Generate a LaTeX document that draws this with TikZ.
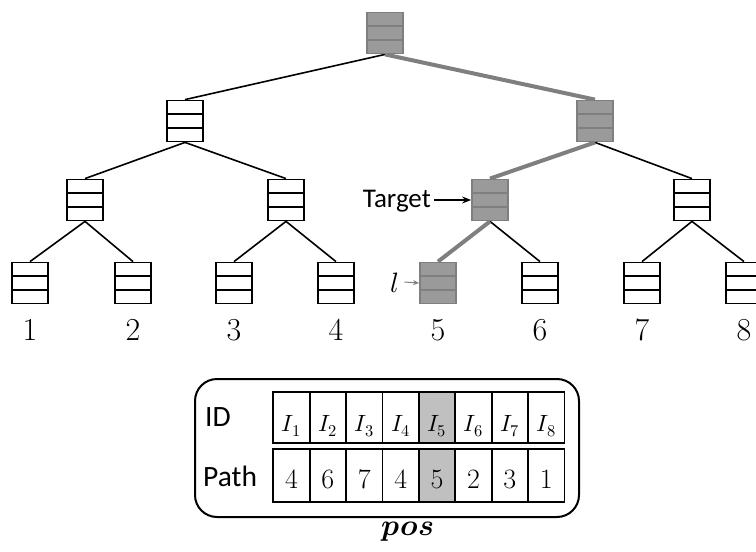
\documentclass[tikz,border=0pt]{standalone}
\usepackage{fontspec}
\usepackage{unicode-math}
\setmathfont{Latin Modern Math}
\usetikzlibrary{calc,arrows.meta,backgrounds}
\newfontfamily\labelsans{Carlito}
\definecolor{boxgrey}{HTML}{9A9A9A}
\definecolor{edgegrey}{HTML}{7F7F7F}
\definecolor{cellgrey}{HTML}{C0C0C0}

\begin{document}
\begin{tikzpicture}[x=1pt,y=-1pt,
  treenode/.style={color=black, draw, line width=1.8pt, fill=white,
    minimum width=36pt, minimum height=41pt, inner sep=0pt,
    path picture={\foreach \f in {0.333,0.667}{%
      \draw[line width=1.8pt]
        ($(path picture bounding box.north west)!\f!(path picture bounding box.south west)$) --
        ($(path picture bounding box.north east)!\f!(path picture bounding box.south east)$);}}},
  pathnode/.style={treenode, color=edgegrey, fill=boxgrey},
  edge/.style={line width=1.6pt, black},
  pathedge/.style={line width=4pt, edgegrey},
  leafnum/.style={anchor=base, inner sep=0pt, font=\fontsize{32}{36}\selectfont},
  cell/.style={draw=black, line width=1.8pt, inner sep=0pt, minimum width=36.4pt},
  idcell/.style={cell, minimum height=51.6pt, text height=27pt, text depth=0pt,
    font=\fontsize{23.5}{26}\selectfont},
  pcell/.style={cell, minimum height=53pt, text height=25pt, text depth=0pt,
    font=\fontsize{28}{32}\selectfont},
  sidelabel/.style={anchor=base west, inner sep=0pt, font=\labelsans\fontsize{29.5}{32}\selectfont}
]
\useasboundingbox (0,0) rectangle (756,552);

% tree nodes
\node[pathnode] (root) at (385,33) {};
\node[treenode] (a) at (185,121) {};
\node[pathnode] (b) at (595,121) {};
\node[treenode] (c) at (85,200) {};
\node[treenode] (d) at (286,200) {};
\node[pathnode] (e) at (490,200) {};
\node[treenode] (f) at (692,200) {};
\foreach \i/\x in {1/30,2/133,3/234,4/336,6/540,7/642,8/744}
  \node[treenode] (l\i) at (\x,283) {};
\node[pathnode] (l5) at (438,283) {};
% heavier first divider in leaf 2
\draw[line width=2.7pt] ($(l2.north west)!0.333!(l2.south west)$) -- ($(l2.north east)!0.333!(l2.south east)$);

% leaf numbers
\foreach \i/\x in {1/30,2/133,3/234,4/336,5/438,6/540,7/642,8/744}
  \node[leafnum] (n\i) at (\x,340) {\i};

% edges
\begin{scope}[on background layer]
  \draw[edge] (root.south) -- (a.north);
  \draw[edge] (a.south) -- (c.north);
  \draw[edge] (a.south) -- (d.north);
  \draw[edge] (c.south) -- (l1.north);
  \draw[edge] (c.south) -- (l2.north);
  \draw[edge] (d.south) -- (l3.north);
  \draw[edge] (d.south) -- (l4.north);
  \draw[edge] (b.south) -- (f.north);
  \draw[edge] (e.south) -- (l6.north);
  \draw[edge] (f.south) -- (l7.north);
  \draw[edge] (f.south) -- (l8.north);
  \draw[pathedge] (root.south) -- (b.north);
  \draw[pathedge] (b.south) -- (e.north);
  \draw[pathedge] (e.south) -- (l5.north);
\end{scope}

% pointers
\node[anchor=east, inner sep=0pt, text height=18pt, text depth=4pt,
  font=\labelsans\fontsize{27}{30}\selectfont] (tgt) at (431,200) {Target};
\draw[line width=1.2pt, -{Stealth[length=9pt,width=7pt]}] ([xshift=3pt]tgt.east) -- (e.west);
\node[inner sep=0pt, text height=20pt, text depth=0pt,
  font=\fontsize{28}{30}\selectfont] (lbl) at (395,282) {$l$};
\draw[line width=1pt, edgegrey, -{Stealth[length=6pt,width=5pt]}] ([xshift=5pt]lbl.east) -- (l5.west);

% position map
\node[draw=black, line width=2pt, rounded corners=22pt, minimum width=384pt,
  minimum height=138pt, inner sep=0pt] (posbox) at (387,448) {};
\node[sidelabel] (idlbl) at (205,426) {ID};
\node[sidelabel] (pathlbl) at (203,486) {Path};
\foreach \k/\p in {1/4,2/6,3/7,4/4,5/5,6/2,7/3,8/1} {
  \pgfmathsetmacro{\cx}{273.3+36.4*(\k-0.5)}
  \ifnum\k=5
    \node[idcell, fill=cellgrey] (id\k) at (\cx,417.5) {$I_{\k}$};
    \node[pcell, fill=cellgrey] (p\k) at (\cx,475.5) {\p};
  \else
    \node[idcell] (id\k) at (\cx,417.5) {$I_{\k}$};
    \node[pcell] (p\k) at (\cx,475.5) {\p};
  \fi
}
\node[anchor=base, inner sep=0pt, font=\fontsize{30}{34}\selectfont] (pos) at (408,535) {$\symbfit{pos}$};
\end{tikzpicture}
\end{document}
